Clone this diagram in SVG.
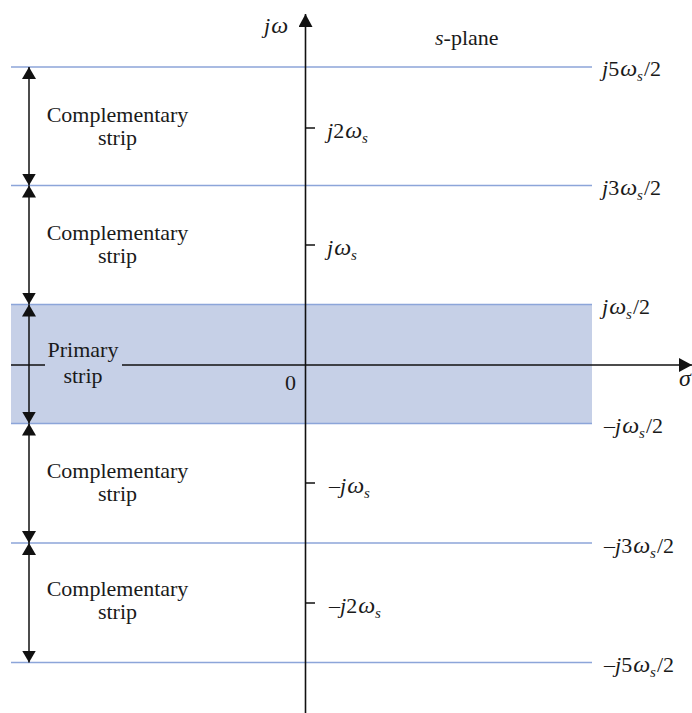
<svg xmlns="http://www.w3.org/2000/svg" width="692" height="713" viewBox="0 0 692 713">
  <style>
    .bound { stroke: #8ca5d9; stroke-width: 1.4; fill: none; }
    .axis { stroke: #111; stroke-width: 1.6; fill: none; }
    .dim { stroke: #111; stroke-width: 1.5; fill: none; marker-start: url(#tri); marker-end: url(#tri); }
    .tick { stroke: #111; stroke-width: 1.5; }
    .lbl { font-family: "Liberation Serif", "Times New Roman", serif; font-size: 22px; fill: #1a1a1a; text-anchor: middle; }
    .m { font-family: "Liberation Serif", "Times New Roman", serif; font-size: 22px; fill: #1a1a1a; }
    .i { font-style: italic; }
    .w { font-style: italic; font-size: 24px; }
    .sub { font-style: italic; font-size: 15px; }
  </style>
  <defs>
    <marker id="tri" viewBox="0 0 12 14" refX="12" refY="7" markerWidth="12" markerHeight="14" markerUnits="userSpaceOnUse" orient="auto-start-reverse">
      <path d="M0,0 L12,7 L0,14 Z" fill="#111"/>
    </marker>
    <marker id="head" viewBox="0 0 13 14" refX="13" refY="7" markerWidth="13" markerHeight="14" markerUnits="userSpaceOnUse" orient="auto">
      <path d="M0,0 L13,7 L0,14 Z" fill="#111"/>
    </marker>
  </defs>

  <rect width="692" height="713" fill="#fff"/>

  <!-- primary strip band -->
  <g id="primary-band">
    <rect x="11" y="304.5" width="581" height="119" fill="#c6d0e7"/>
  </g>

  <!-- strip boundaries -->
  <g id="boundaries">
    <line class="bound" x1="11" y1="67" x2="592" y2="67"/>
    <line class="bound" x1="11" y1="185.5" x2="592" y2="185.5"/>
    <line class="bound" x1="11" y1="304.5" x2="592" y2="304.5"/>
    <line class="bound" x1="11" y1="423.5" x2="592" y2="423.5"/>
    <line class="bound" x1="11" y1="543" x2="592" y2="543"/>
    <line class="bound" x1="11" y1="662.5" x2="592" y2="662.5"/>
  </g>

  <!-- axes, ticks and strip-height arrows -->
  <g id="connectors">
    <line class="axis" x1="305.5" y1="713" x2="305.5" y2="14" marker-end="url(#head)"/>
    <line class="axis" x1="11" y1="365" x2="45" y2="365"/>
    <line class="axis" x1="122" y1="365" x2="692" y2="365" marker-end="url(#head)"/>
    <line class="tick" x1="305" y1="128" x2="315" y2="128"/>
    <line class="tick" x1="305" y1="245" x2="315" y2="245"/>
    <line class="tick" x1="305" y1="483" x2="315" y2="483"/>
    <line class="tick" x1="305" y1="603" x2="315" y2="603"/>
    <line class="dim" x1="29" y1="67" x2="29" y2="185.5"/>
    <line class="dim" x1="29" y1="185.5" x2="29" y2="304.5"/>
    <line class="dim" x1="29" y1="304.5" x2="29" y2="423.5"/>
    <line class="dim" x1="29" y1="423.5" x2="29" y2="543"/>
    <line class="dim" x1="29" y1="543" x2="29" y2="662.5"/>
  </g>

  <!-- axis labels -->
  <g id="axis-labels">
    <text class="m" x="264" y="33"><tspan class="i">j</tspan><tspan class="w" dx="1">ω</tspan></text>
    <text class="m" x="679" y="386"><tspan class="w" font-size="25">σ</tspan></text>
    <text class="m" x="285" y="390">0</text>
    <text class="m" x="435" y="45"><tspan class="i">s</tspan>-plane</text>
  </g>

  <!-- strip names -->
  <g id="strip-1">
    <text class="lbl" x="117.5" y="122">Complementary</text>
    <text class="lbl" x="117.5" y="145">strip</text>
  </g>
  <g id="strip-2">
    <text class="lbl" x="117.5" y="240">Complementary</text>
    <text class="lbl" x="117.5" y="263">strip</text>
  </g>
  <g id="strip-primary">
    <text class="lbl" x="83" y="357">Primary</text>
    <text class="lbl" x="83" y="383">strip</text>
  </g>
  <g id="strip-3">
    <text class="lbl" x="117.5" y="478">Complementary</text>
    <text class="lbl" x="117.5" y="501">strip</text>
  </g>
  <g id="strip-4">
    <text class="lbl" x="117.5" y="596">Complementary</text>
    <text class="lbl" x="117.5" y="619">strip</text>
  </g>

  <!-- tick values on the jω axis -->
  <g id="tick-labels">
    <text class="m" x="327" y="138"><tspan class="i">j</tspan>2<tspan class="w" dx="1">ω</tspan><tspan class="sub" dy="5">s</tspan></text>
    <text class="m" x="327" y="255"><tspan class="i">j</tspan><tspan class="w" dx="1">ω</tspan><tspan class="sub" dy="5">s</tspan></text>
    <text class="m" x="329" y="493">–<tspan class="i">j</tspan><tspan class="w" dx="1">ω</tspan><tspan class="sub" dy="5">s</tspan></text>
    <text class="m" x="329" y="613">–<tspan class="i">j</tspan>2<tspan class="w" dx="1">ω</tspan><tspan class="sub" dy="5">s</tspan></text>
  </g>

  <!-- boundary values -->
  <g id="boundary-labels">
    <text class="m" x="602" y="76"><tspan class="i">j</tspan>5<tspan class="w" dx="1">ω</tspan><tspan class="sub" dy="5">s</tspan><tspan dy="-5" dx="1">/2</tspan></text>
    <text class="m" x="602" y="195"><tspan class="i">j</tspan>3<tspan class="w" dx="1">ω</tspan><tspan class="sub" dy="5">s</tspan><tspan dy="-5" dx="1">/2</tspan></text>
    <text class="m" x="602" y="314"><tspan class="i">j</tspan><tspan class="w" dx="1">ω</tspan><tspan class="sub" dy="5">s</tspan><tspan dy="-5" dx="1">/2</tspan></text>
    <text class="m" x="604" y="433">–<tspan class="i">j</tspan><tspan class="w" dx="1">ω</tspan><tspan class="sub" dy="5">s</tspan><tspan dy="-5" dx="1">/2</tspan></text>
    <text class="m" x="604" y="553">–<tspan class="i">j</tspan>3<tspan class="w" dx="1">ω</tspan><tspan class="sub" dy="5">s</tspan><tspan dy="-5" dx="1">/2</tspan></text>
    <text class="m" x="604" y="672">–<tspan class="i">j</tspan>5<tspan class="w" dx="1">ω</tspan><tspan class="sub" dy="5">s</tspan><tspan dy="-5" dx="1">/2</tspan></text>
  </g>
</svg>
